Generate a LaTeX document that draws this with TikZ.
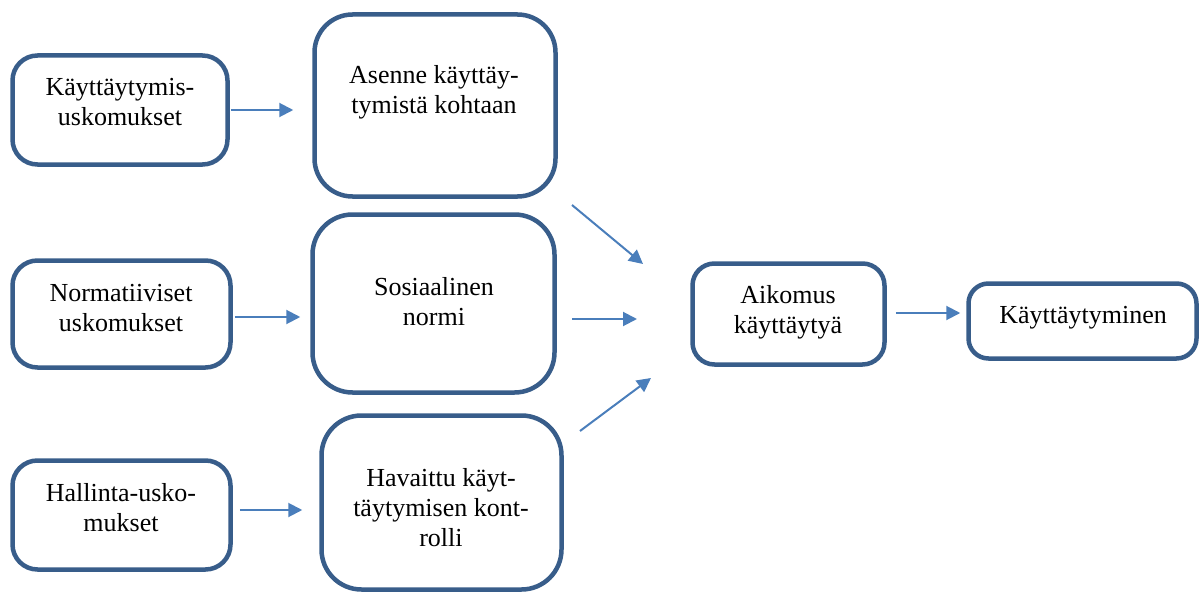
\documentclass[tikz,border=0pt]{standalone}
\usepackage{fontspec}
\setmainfont{Liberation Serif}
\usetikzlibrary{arrows.meta}
\definecolor{boxblue}{RGB}{56,93,138}
\definecolor{arrblue}{RGB}{74,126,187}
\begin{document}
\begin{tikzpicture}[x=1pt,y=-1pt,
  box/.style={draw=boxblue, line width=4.5pt, fill=white, inner sep=0pt},
  txt/.style={align=center, inner sep=0pt, font=\fontsize{26}{30}\selectfont},
  arr/.style={draw=arrblue, line width=2pt, -{Triangle[length=14pt,width=14pt]}}]
\useasboundingbox (0,0) rectangle (1200,594);
% boxes
\node[box, minimum width=215pt, minimum height=109pt, rounded corners=25pt] (b1) at (120,110) {};
\node[box, minimum width=218pt, minimum height=107pt, rounded corners=25pt] (b2) at (121.5,314) {};
\node[box, minimum width=218pt, minimum height=109pt, rounded corners=25pt] (b3) at (121.5,515) {};
\node[box, minimum width=241pt, minimum height=182pt, rounded corners=38pt] (m1) at (435,105.5) {};
\node[box, minimum width=242pt, minimum height=178pt, rounded corners=40pt] (m2) at (433.5,303.5) {};
\node[box, minimum width=240pt, minimum height=174pt, rounded corners=40pt] (m3) at (441.5,502.5) {};
\node[box, minimum width=192pt, minimum height=101pt, rounded corners=22pt] (a) at (788.5,314) {};
\node[box, minimum width=228pt, minimum height=75pt, rounded corners=20pt] (k) at (1082.5,321) {};
% texts
\node[txt] (t1) at (120,104) {\strut Käyttäytymis-\\\strut uskomukset};
\node[txt] (t2) at (121,310) {\strut Normatiiviset\\\strut uskomukset};
\node[txt] (t3) at (121,510) {\strut Hallinta-usko-\\\strut mukset};
\node[txt] (tm1) at (434,92.5) {\strut Asenne käyttäy-\\\strut tymistä kohtaan};
\node[txt] (tm2) at (434,304) {\strut Sosiaalinen\\\strut normi};
\node[txt] (tm3) at (441,510) {\strut Havaittu käyt-\\\strut täytymisen kont-\\\strut rolli};
\node[txt] (ta) at (788,312) {\strut Aikomus\\\strut käyttäytyä};
\node[txt] (tk) at (1083,317) {\strut Käyttäytyminen};
% connectors
\draw[arr, shorten <=1pt, shorten >=19pt] (b1.east) -- (b1.east -| m1.west);
\draw[arr, shorten <=2pt, shorten >=10pt] ([yshift=-3pt]b2.east) -- ([yshift=-3pt]b2.east -| m2.west);
\draw[arr, shorten <=7pt, shorten >=17pt] ([yshift=5pt]b3.east) -- ([yshift=5pt]b3.east -| m3.west);
\draw[arr, shorten <=9pt, shorten >=6pt] ([yshift=1pt]a.east) -- ([yshift=1pt]a.east -| k.west);
\coordinate (p1s) at (572,205);
\coordinate (p1e) at (643,264);
\coordinate (p2s) at (572,319);
\coordinate (p2e) at (637,319);
\coordinate (p3s) at (580,431);
\coordinate (p3e) at (651,378);
\draw[arr] (p1s) -- (p1e);
\draw[arr] (p2s) -- (p2e);
\draw[arr] (p3s) -- (p3e);
\end{tikzpicture}
\end{document}
